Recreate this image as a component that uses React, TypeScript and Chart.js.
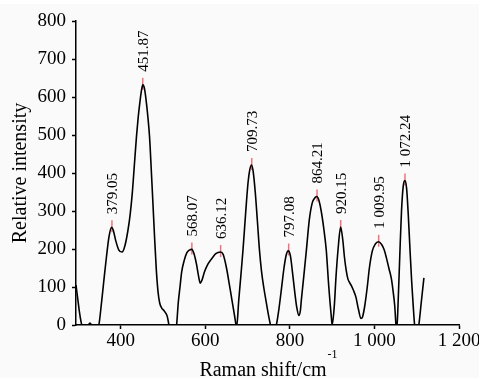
import React, { useEffect, useRef } from 'react';
import { Chart, registerables } from 'chart.js';

Chart.register(...registerables);

// Raman shift (cm-1) of the traced curve
const ramanShift = [
  294, 298, 302, 306, 309, 312, 318, 323, 327, 331, 336, 342, 348,
  354, 360, 366, 372, 378, 382, 388, 395, 403, 410, 417, 422, 427, 432,
  437, 441, 445, 449, 452, 456, 460, 464, 468, 472, 476, 480, 484, 488,
  492, 497, 502, 507, 510, 513, 516, 522, 528, 532, 536, 540, 544, 550,
  556, 562, 568, 573, 579, 584, 588, 592, 598, 606, 612, 618, 624, 630,
  636, 642, 650, 657, 663, 669, 674, 679, 684, 689, 695, 701, 705, 709,
  713, 718, 723, 728, 733, 738, 744, 750, 754, 758, 763, 768, 774, 780, 786,
  791, 796, 801, 806, 811, 816, 821, 825, 827, 833, 839, 846, 853, 858,
  863, 868, 874, 880, 886, 892, 898, 900, 905, 909, 914, 920, 925, 929,
  933, 937, 941, 945, 950, 956, 962, 968, 972, 977, 983, 988, 995, 1002,
  1009, 1017, 1023, 1028, 1034, 1040, 1044, 1048, 1051, 1053, 1056, 1060, 1064,
  1068, 1072, 1076, 1080, 1084, 1088, 1092, 1095, 1100, 1105, 1111, 1117,
];

// Relative intensity of the traced curve
const intensity = [
  105, 70, 35, 8, -5, -10, -8, 0, 5, 0, -8, -10, 0,
  55, 118, 179, 232, 257, 250, 222, 198, 192, 210, 250, 290, 345, 420,
  495, 545, 585, 618, 632, 622, 590, 548, 495, 410, 320, 228, 145, 88,
  58, 44, 38, 30, 22, 5, -15, -45, -30, 0, 60, 100, 140, 170,
  190, 197, 199, 188, 160, 128, 110, 118, 140, 160, 170, 179, 187, 191,
  192, 186, 150, 105, 65, 25, -5, 65, 130, 197, 290, 375, 408, 421,
  405, 350, 275, 197, 140, 100, 60, 22, 0, -20, -20, 0, 42, 95, 150,
  183, 195, 183, 140, 91, 48, 25, 40, 65, 130, 197, 278, 322, 333,
  338, 330, 300, 255, 197, 100, 21, 0, 50, 126, 200, 258, 225, 179,
  145, 122, 112, 104, 92, 74, 42, 17, 22, 50, 100, 150, 195, 213,
  219, 212, 198, 178, 150, 122, 90, 50, 0, -10, 60, 185, 300,
  365, 380, 360, 290, 200, 115, 45, 0, -30, 0, 62, 124,
];

// Marked peaks
const peakShifts = [379.05, 451.87, 568.07, 636.12, 709.73, 797.08, 864.21, 920.15, 1009.95, 1072.24];
const peakHeights = [257, 632, 199, 192, 421, 196, 338, 258, 219, 380];
const peakLabels = ['379.05', '451.87', '568.07', '636.12', '709.73', '797.08', '864.21', '920.15', '1 009.95', '1 072.24'];

// Axes
const xTicks = [400, 600, 800, 1000, 1200];
const yTicks = [0, 100, 200, 300, 400, 500, 600, 700, 800];
const xTitle = 'Raman shift/cm';
const xTitleSup = '-1';
const yTitle = 'Relative intensity';

const FONT = '"Liberation Serif", "Times New Roman", Times, serif';

function fmtThousands(v: number): string {
  if (v >= 1000) {
    const th = Math.floor(v / 1000);
    const rest = String(v % 1000).padStart(3, '0');
    return `${th} ${rest}`;
  }
  return String(v);
}

const decorPlugin = {
  id: 'decor',
  beforeDraw(chart: any) {
    const { ctx, width, height } = chart;
    ctx.save();
    ctx.fillStyle = '#ffffff';
    ctx.fillRect(0, 0, width, height);
    ctx.fillStyle = '#fafafa';
    ctx.fillRect(0, 4, width, height - 4);
    ctx.restore();
  },
  beforeDatasetsDraw(chart: any) {
    const { ctx } = chart;
    const xs = chart.scales.x;
    const ys = chart.scales.y;
    ctx.save();
    ctx.strokeStyle = 'rgba(238, 80, 92, 0.8)';
    ctx.lineWidth = 1.5;
    peakShifts.forEach((p, i) => {
      const px = xs.getPixelForValue(p);
      const py = ys.getPixelForValue(peakHeights[i]);
      ctx.beginPath();
      ctx.moveTo(px, py - 7);
      ctx.lineTo(px, py + 5);
      ctx.stroke();
    });
    ctx.restore();
  },
  afterDraw(chart: any) {
    const { ctx, chartArea } = chart;
    const xs = chart.scales.x;
    const ys = chart.scales.y;
    ctx.save();
    ctx.fillStyle = '#000';
    // peak labels
    ctx.font = `15px ${FONT}`;
    ctx.textAlign = 'left';
    ctx.textBaseline = 'middle';
    peakShifts.forEach((p, i) => {
      const px = xs.getPixelForValue(p) + 1.5;
      const py = ys.getPixelForValue(peakHeights[i]) - 13;
      ctx.save();
      ctx.translate(px, py);
      ctx.rotate(-Math.PI / 2);
      ctx.fillText(peakLabels[i], 0, 0);
      ctx.restore();
    });
    // x title with superscript
    ctx.textBaseline = 'alphabetic';
    ctx.font = `20px ${FONT}`;
    const w1 = ctx.measureText(xTitle).width;
    ctx.font = `12px ${FONT}`;
    const w2 = ctx.measureText(xTitleSup).width;
    const cx = (chartArea.left + chartArea.right) / 2 + 1;
    const sx = cx - (w1 + 1 + w2) / 2;
    ctx.font = `20px ${FONT}`;
    ctx.fillText(xTitle, sx, 376);
    ctx.font = `12px ${FONT}`;
    ctx.fillText(xTitleSup, sx + w1 + 1, 358);
    // y title
    ctx.font = `20px ${FONT}`;
    ctx.textAlign = 'center';
    ctx.translate(26, (chartArea.top + chartArea.bottom) / 2);
    ctx.rotate(-Math.PI / 2);
    ctx.fillText(yTitle, 0, 0);
    ctx.restore();
  },
};

export default function App() {
  const ref = useRef<HTMLCanvasElement>(null);

  useEffect(() => {
    const canvas = ref.current;
    if (!canvas) return;
    const chart = new Chart(canvas, {
      type: 'line',
      data: {
        datasets: [
          {
            data: ramanShift.map((x, i) => ({ x, y: intensity[i] })),
            borderColor: '#000',
            borderWidth: 1.6,
            pointRadius: 0,
            cubicInterpolationMode: 'monotone',
            fill: false,
          },
        ],
      },
      options: {
        responsive: false,
        animation: false,
        events: [],
        layout: { padding: { top: 21, right: 20, left: 0, bottom: 0 } },
        plugins: {
          legend: { display: false },
          tooltip: { enabled: false },
          title: { display: false },
        },
        scales: {
          x: {
            type: 'linear',
            min: 294,
            max: 1200,
            afterBuildTicks: (s: any) => {
              s.ticks = xTicks.map((v) => ({ value: v }));
            },
            afterFit: (s: any) => {
              s.height = 53;
              s.paddingLeft = 0;
              s.paddingRight = 0;
            },
            ticks: {
              callback: (v: any) => fmtThousands(Number(v)),
              font: { family: FONT, size: 19 },
              color: '#000',
              padding: 1,
              maxRotation: 0,
              autoSkip: false,
            },
            grid: {
              drawOnChartArea: false,
              drawTicks: true,
              tickLength: 4,
              tickColor: '#000',
              tickWidth: 1.5,
            },
            border: { display: true, color: '#000', width: 1.5 },
          },
          y: {
            type: 'linear',
            min: 0,
            max: 800,
            afterBuildTicks: (s: any) => {
              s.ticks = yTicks.map((v) => ({ value: v }));
            },
            afterFit: (s: any) => {
              s.width = 76;
              s.paddingTop = 0;
              s.paddingBottom = 0;
            },
            ticks: {
              font: { family: FONT, size: 19 },
              color: '#000',
              padding: 6,
            },
            grid: {
              drawOnChartArea: false,
              drawTicks: true,
              tickLength: 4,
              tickColor: '#000',
              tickWidth: 1.5,
            },
            border: { display: true, color: '#000', width: 1.5 },
          },
        },
      },
      plugins: [decorPlugin],
    } as any);
    return () => chart.destroy();
  }, []);

  return (
    <div style={{ position: 'fixed', left: 0, top: 0, width: 479, height: 378 }}>
      <canvas ref={ref} width={479} height={378} style={{ display: 'block', width: 479, height: 378 }} />
    </div>
  );
}
